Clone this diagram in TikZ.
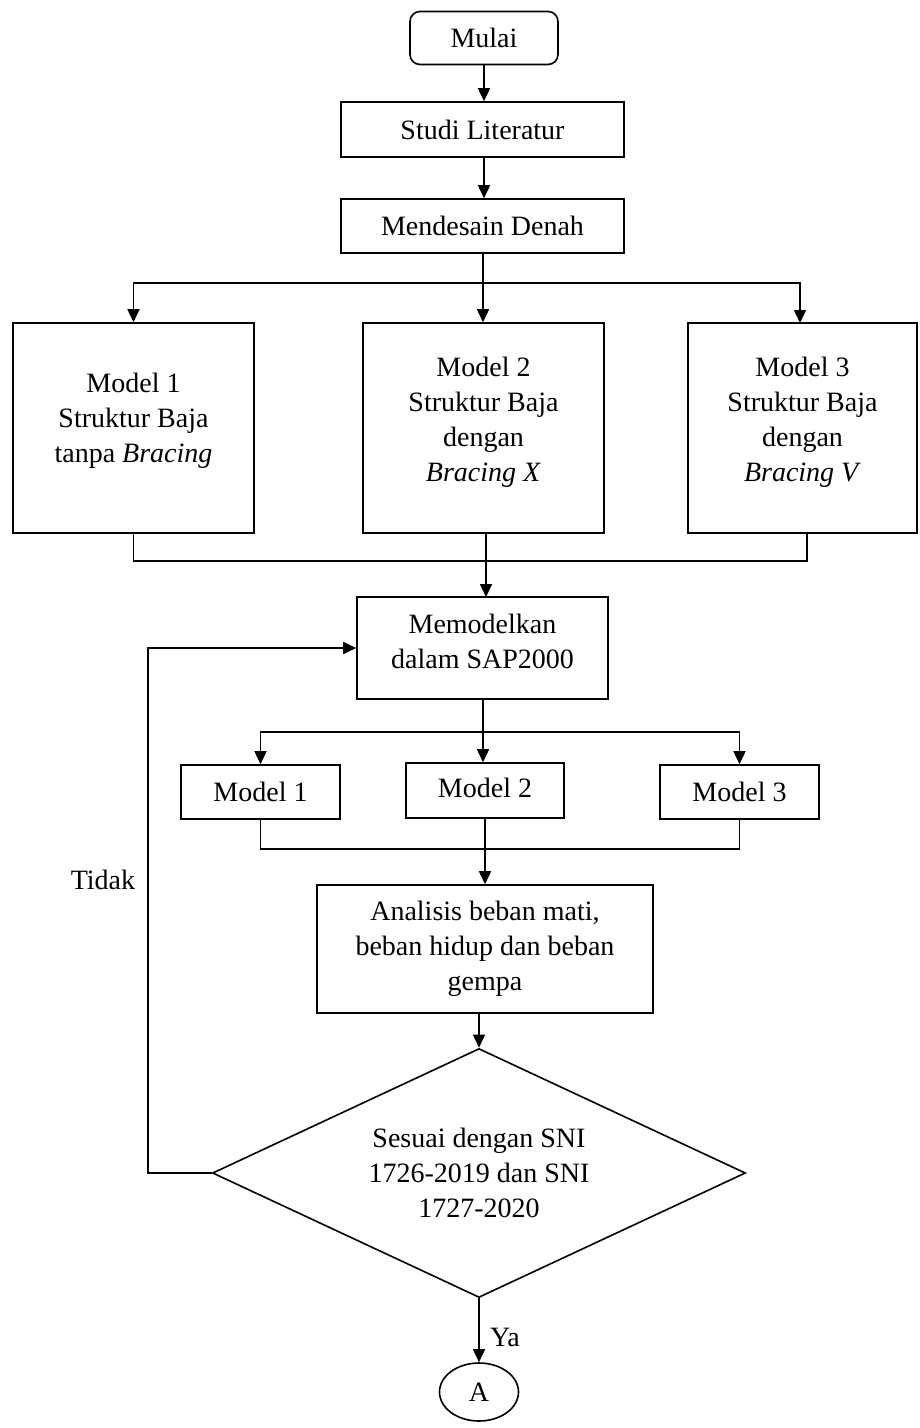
\documentclass[tikz,border=0pt]{standalone}
\usepackage{fontspec}
\setmainfont{Liberation Serif}
\usetikzlibrary{shapes.geometric,arrows.meta}
\begin{document}
\begin{tikzpicture}[x=1pt,y=-1pt,
  every node/.style={font=\fontsize{28}{35}\selectfont, align=center, inner sep=0pt},
  box/.style={draw, line width=1.6pt, rectangle},
  arr/.style={-{Triangle[width=12pt,length=13pt]}},
  line width=1.6pt]
\useasboundingbox (0,0) rectangle (919,1428);

% process boxes
\node[box, rounded corners=10pt, minimum width=148pt, minimum height=53pt] (mulai) at (484,38) {Mulai};
\node[box, minimum width=283pt, minimum height=55pt] (studi) at (482.5,129.5) {Studi Literatur};
\node[box, minimum width=283pt, minimum height=54pt] (denah) at (482.5,226) {Mendesain Denah};

\node[box, minimum width=241pt, minimum height=210pt] (m1) at (133.5,428) {};
\node (t1) at (133.5,421) {Model 1\\Struktur Baja\\tanpa \textit{Bracing}};
\node[box, minimum width=241pt, minimum height=210pt] (m2) at (483.5,428) {};
\node (t2) at (483.5,422) {Model 2\\Struktur Baja\\dengan\\\textit{Bracing X}};
\node[box, minimum width=229pt, minimum height=210pt] (m3) at (802.5,428) {};
\node (t3) at (802.5,422) {Model 3\\Struktur Baja\\dengan\\\textit{Bracing V}};

\node[box, minimum width=251pt, minimum height=102pt] (sap) at (482.5,648) {};
\node (tsap) at (482.5,641) {Memodelkan\\dalam SAP2000};

\node[box, minimum width=159pt, minimum height=54pt] (s1) at (260.5,792) {Model 1};
\node[box, minimum width=158pt, minimum height=55pt] (s2) at (485,790.5) {};
\node (ts2) at (485,788) {Model 2};
\node[box, minimum width=159pt, minimum height=54pt] (s3) at (739.5,792) {Model 3};

\node[box, minimum width=336pt, minimum height=128pt] (ana) at (485,949) {Analisis beban mati,\\beban hidup dan beban\\gempa};

% decision
\node[draw, line width=1.6pt, diamond, aspect=2.14, minimum width=533pt, minimum height=249pt] (dia) at (479,1173) {Sesuai dengan SNI\\1726-2019 dan SNI\\1727-2020};

\node[draw, line width=1.6pt, ellipse, minimum width=79pt, minimum height=58pt] (A) at (479,1392) {A};

% connectors
\draw[arr] (mulai.south) -- (mulai.south |- studi.north);
\draw[arr] (studi.south -| mulai.south) -- (mulai.south |- denah.north);

\coordinate (b1) at (483,283);
\draw (denah.south -| b1) -- (b1);
\draw[arr] (b1) -| (m1.north);
\draw[arr] (b1) -| (800,323);
\draw[arr] (b1) -- (b1 |- m2.north);

\coordinate (b2) at (486,561);
\draw (m1.south) -- (m1.south |- b2) -- (807,561) -- (807,533);
\draw[arr] (486,533) -- (486,597);

\coordinate (b3) at (483,732);
\draw (sap.south -| b3) -- (b3);
\draw[arr] (b3) -| (s1.north);
\draw[arr] (b3) -| (s3.north);
\draw[arr] (b3) -- (b3 |- s2.north);

\draw (s1.south) -- (s1.south |- 0,849) -- (s3.south |- 0,849) -- (s3.south);
\draw[arr] (s2.south) -- (ana.north);

\coordinate (a2) at (479,1013);
\draw[arr] (a2) -- (dia.north);

\coordinate (fb) at (148,1173);
\draw[arr] (dia.west) -- (fb) |- (sap.west);
\node (tidak) at (103,880) {Tidak};

\draw[arr] (dia.south) -- (A.north);
\node (ya) at (505,1337) {Ya};
\end{tikzpicture}
\end{document}
